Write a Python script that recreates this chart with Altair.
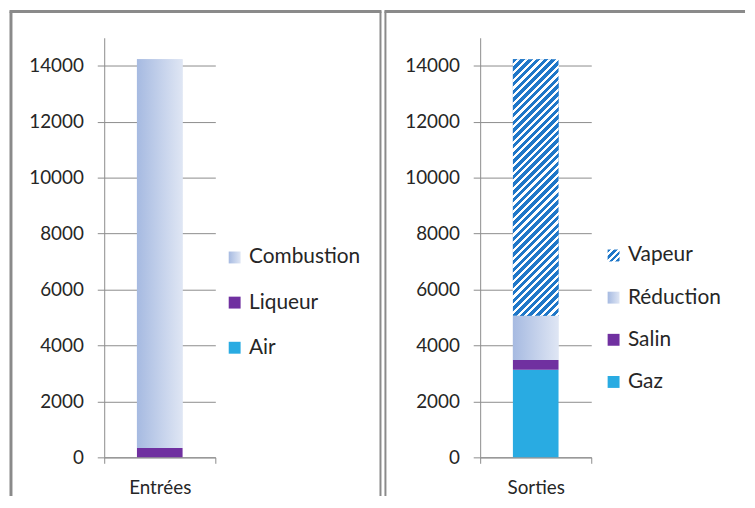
import json
import altair as alt
import pandas as pd

# ---------------- data ----------------
left_label = "Entrées"
left_categories = ["Air", "Liqueur", "Combustion"]
left_values = [0, 330, 13900]

right_label = "Sorties"
right_categories = ["Gaz", "Salin", "Réduction", "Vapeur"]
right_values = [3130, 350, 1580, 9170]

y_ticks = [0, 2000, 4000, 6000, 8000, 10000, 12000, 14000]
Y_MAX = 15000

# ---------------- style ----------------
PLOT_W, PLOT_H = 112, 423
BAR_W = 46
FONT = "Lato"
TEXT = "#262626"
GRID = "#8c8c8c"
BORDER = "#8a8a8a"
CYAN = "#29abe2"
PURPLE = "#7030a0"
STRIPE = "#1f77c8"
GRAD_L = "#a6bae1"
GRAD_R = "#dfe6f4"


def soft_gradient():
    return {"gradient": "linear", "x1": 0, "y1": 0, "x2": 1, "y2": 0,
            "stops": [{"offset": 0, "color": GRAD_L}, {"offset": 1, "color": GRAD_R}]}


def stripe_gradient(w, h, period=7.8, frac=0.58):
    total = w + h
    k = total / (w * w + h * h)
    stops = []
    i = 0
    while i * period / total <= 1:
        a = i * period / total
        b = min((i + frac) * period / total, 1)
        c = min((i + 1) * period / total, 1)
        stops += [{"offset": round(a, 5), "color": STRIPE}, {"offset": round(b, 5), "color": STRIPE},
                  {"offset": round(b, 5), "color": "#ffffff"}, {"offset": round(c, 5), "color": "#ffffff"}]
        i += 1
    return {"gradient": "linear", "x1": 0, "y1": 0, "x2": w * k, "y2": h * k, "stops": stops}


def panel(cats, vals, label, colors, legend_x, legend_y, row_pad, borders):
    df = pd.DataFrame({"cat": cats, "value": vals,
                       "order": list(range(len(cats))), "panel": label})
    base = alt.Chart(df).transform_stack(
        stack="value", groupby=["panel"], as_=["y0", "y1"],
        sort=[alt.SortField("order", order="ascending")])

    x_axis = alt.Axis(title=None, labelAngle=0, labelFont=FONT, labelFontSize=19,
                      labelColor=TEXT, labelPadding=15, ticks=True, tickSize=6,
                      tickColor=GRID, domainColor=GRID, tickBand="extent", grid=False)
    x = alt.X("panel:N", axis=x_axis,
              scale=alt.Scale(paddingInner=0, paddingOuter=0))
    y_axis = alt.Axis(title=None, values=y_ticks, format="d", labelFont=FONT,
                      labelFontSize=19, labelColor=TEXT, labelPadding=14,
                      tickSize=7, tickColor=GRID, domainColor=GRID,
                      grid=True, gridColor=GRID, gridWidth=1)
    y = alt.Y("y0:Q", axis=y_axis, scale=alt.Scale(domain=[0, Y_MAX], nice=False))

    # legend swatches (solid, gradient or striped), via the colour scale range
    swatch = []
    for col in colors:
        if col == "soft":
            swatch.append(alt.ExprRef(expr=json.dumps(soft_gradient())))
        elif col == "stripe":
            swatch.append(alt.ExprRef(expr=json.dumps(stripe_gradient(12, 12, period=6.5))))
        else:
            swatch.append(col)

    legend = alt.Legend(title=None, orient="none", legendX=legend_x, legendY=legend_y,
                        symbolType="square", symbolSize=144, symbolStrokeWidth=0,
                        labelFont=FONT, labelFontSize=21, labelColor=TEXT,
                        labelOffset=4, rowPadding=row_pad, padding=0)
    bars = base.mark_bar(width=BAR_W).encode(
        x=x, y=y, y2="y1:Q",
        color=alt.Color("cat:N", legend=legend,
                        scale=alt.Scale(domain=cats[::-1], range=swatch[::-1])))
    layers = [bars]

    for c, col, v in zip(cats, colors, vals):
        if col == "soft":
            fill = soft_gradient()
        elif col == "stripe":
            fill = stripe_gradient(BAR_W, v / Y_MAX * PLOT_H)
        else:
            continue
        layers.append(base.transform_filter(alt.datum.cat == c)
                      .mark_bar(width=BAR_W, fill=fill)
                      .encode(x=x, y=y, y2="y1:Q"))

    one = pd.DataFrame({"k": [0]})
    for b in borders:
        enc = {k: alt.value(v) for k, v in b.items() if k != "sw"}
        layers.append(alt.Chart(one).mark_rule(color=BORDER, strokeWidth=b["sw"]).encode(**enc))

    return alt.layer(*layers).properties(width=PLOT_W, height=PLOT_H)


left = panel(left_categories, left_values, left_label,
             [CYAN, PURPLE, "soft"], 121, 211, 23.5,
             [dict(x=-94, y=-26.5, y2=462, sw=3),
              dict(x=-95.5, x2=279.5, y=-26.5, sw=3),
              dict(x=278.5, y=-26.5, y2=462, sw=2)])
right = panel(right_categories, right_values, right_label,
              [CYAN, PURPLE, "soft", "stripe"], 124, 209, 20.5,
              [dict(x=-95.5, y=-26.5, y2=462, sw=2),
               dict(x=-96.5, x2=267, y=-26.5, sw=3)])

chart = alt.hconcat(left, right, spacing=0).resolve_scale(
    color="independent", x="independent").properties(
    padding=0, background="white").configure_view(stroke=None)

chart.save("out.html", embed_options={"renderer": "svg", "actions": False})
